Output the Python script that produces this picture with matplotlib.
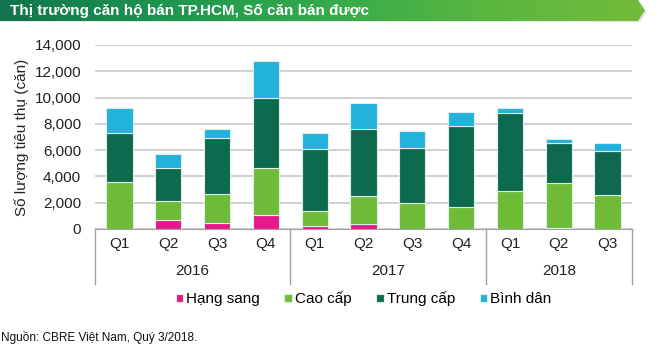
import matplotlib
matplotlib.use("Agg")
import matplotlib.pyplot as plt
import numpy as np
from matplotlib.patches import Polygon
from matplotlib.transforms import blended_transform_factory

plt.rcParams['font.family'] = ['Liberation Sans Narrow', 'Liberation Sans', 'DejaVu Sans']

# data (units sold per quarter)
quarters = ['Q1', 'Q2', 'Q3', 'Q4', 'Q1', 'Q2', 'Q3', 'Q4', 'Q1', 'Q2', 'Q3']
years = ['2016', '2017', '2018']
year_sizes = [4, 4, 3]
hang_sang = [0, 650, 450, 1050, 250, 350, 0, 0, 0, 100, 0]
cao_cap = [3600, 1500, 2250, 3560, 1140, 2150, 1970, 1640, 2880, 3400, 2570]
trung_cap = [3700, 2520, 4240, 5340, 4660, 5140, 4210, 6160, 5970, 3070, 3380]
binh_dan = [1870, 1010, 700, 2800, 1270, 1970, 1290, 1130, 360, 280, 610]
series_names = ['Hạng sang', 'Cao cấp', 'Trung cấp', 'Bình dân']
colors = ['#E8188C', '#6DBB37', '#0E6A4E', '#22B2DC']

fig = plt.figure(figsize=(6.7, 3.5), dpi=100)
ax = fig.add_axes([95/670, 1 - 229/350, (632 - 95)/670, 184/350])

x = np.arange(len(quarters))
bottom = np.zeros(len(quarters))
for vals, name, c in zip([hang_sang, cao_cap, trung_cap, binh_dan], series_names, colors):
    ax.bar(x, vals, 0.54, bottom=bottom, color=c, edgecolor='#dfeee6', linewidth=0.8,
           label=name, zorder=3)
    bottom += np.array(vals)

ax.set_xlim(-0.5, len(quarters) - 0.5)
ax.set_ylim(0, 14000)
ax.set_yticks(range(0, 14001, 2000))
ax.set_yticklabels([f'{v:,}' for v in range(0, 14001, 2000)], fontsize=11, color='#222222')
ax.yaxis.grid(True, color='#c8c8c8', linewidth=1.2, zorder=0)
ax.tick_params(axis='y', length=0, pad=10)
ax.tick_params(axis='x', length=0, pad=6)
ax.set_xticks(x)
ax.set_xticklabels(quarters, fontsize=11, color='#222222')
for s in ['top', 'right', 'left']:
    ax.spines[s].set_visible(False)
ax.spines['bottom'].set_color('#a0a0a0')
ax.set_ylabel('Số lượng tiêu thụ (căn)', fontsize=11, color='#222222', labelpad=4)

# multi-level category axis: separators and year labels
tr = blended_transform_factory(ax.transData, ax.transAxes)
start = 0
bounds = [-0.5]
for yr, n in zip(years, year_sizes):
    ax.text(start + (n - 1) / 2, -0.23, yr, transform=tr, ha='center', va='center',
            fontsize=11, color='#222222')
    start += n
    bounds.append(start - 0.5)
for b in bounds:
    ax.plot([b, b], [0, -0.30], transform=tr, color='#a0a0a0', linewidth=1, clip_on=False)

ax.legend(loc='center', bbox_to_anchor=(0.5, -0.38), ncol=4, frameon=False,
          fontsize=11, handlelength=0.5, handleheight=0.5, handletextpad=0.2,
          columnspacing=1.6, borderaxespad=0)

# title banner with green gradient
bx = fig.add_axes([0, 1 - 24/350, 1, 24/350])
bx.set_xlim(0, 670)
bx.set_ylim(0, 24)
bx.axis('off')
shadow = Polygon([[0, 2], [640, 2], [647, 12], [640, 22], [0, 22]], closed=True,
                 facecolor='#e6e6e6', edgecolor='none')
bx.add_patch(shadow)
grad = np.linspace(0, 1, 256).reshape(1, -1)
cmap = matplotlib.colors.LinearSegmentedColormap.from_list(
    'g', ['#11744C', '#1C9650', '#34AA4A', '#58B640', '#74BC3A'])
im = bx.imshow(grad, extent=[0, 646, 3, 24], aspect='auto', cmap=cmap, zorder=2)
poly = Polygon([[0, 3], [638, 3], [645, 13.5], [638, 24], [0, 24]], closed=True,
               transform=bx.transData, facecolor='none', edgecolor='none')
bx.add_patch(poly)
im.set_clip_path(poly)
bx.text(10, 13.5, 'Thị trường căn hộ bán TP.HCM, Số căn bán được', color='white',
        fontsize=11, fontweight='bold', va='center', ha='left', zorder=3)

fig.text(0.002, 1 - 337/350, 'Nguồn: CBRE Việt Nam, Quý 3/2018.', fontsize=8.5,
         color='#111111', va='center', ha='left')

fig.savefig('out.png', dpi=100, facecolor='white')
